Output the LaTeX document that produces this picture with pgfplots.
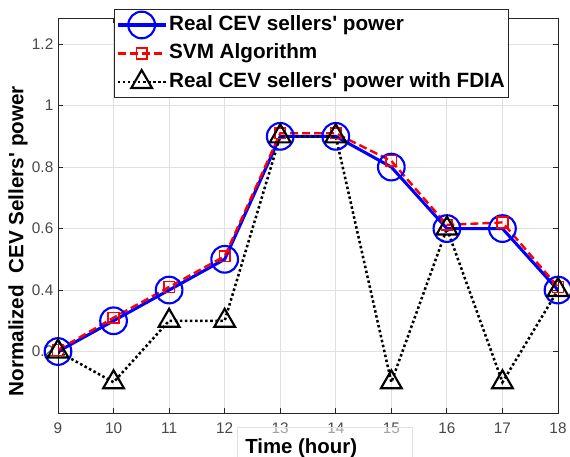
\documentclass[border=0pt]{standalone}
\usepackage{pgfplots}
\pgfplotsset{compat=1.18}
\usepackage{fontspec}
\setmainfont{Liberation Sans}[Ligatures=TeXOff]
\begin{document}
\begin{tikzpicture}
\begin{axis}[
  name=ax,
  scale only axis,
  width=375pt, height=296.25pt,
  xmin=9, xmax=18, ymin=0, ymax=1.285,
  xtick={9,10,11,12,13,14,15,16,17,18},
  ytick={0.2,0.4,0.6,0.8,1,1.2},
  yticklabels={0.2,0.4,0.6,0.8,1,1.2},
  grid=major,
  major grid style={line width=0.6pt, color=black!12},
  axis line style={color=black!85, line width=0.7pt},
  tick style={color=black!85, line width=0.6pt},
  tick align=inside,
  major tick length=4pt,
  /pgf/number format/assume math mode=true,
  ticklabel style={font=\fontsize{11.5}{13}\selectfont, text=black!72},
  xticklabel style={yshift=-4pt},
  xlabel={Time (hour)\hspace*{35pt}},
  ylabel={Normalized\hspace{0.55em}CEV Sellers' power},
  xlabel style={at={([yshift=-30pt]axis description cs:0.358,0)}, anchor=base west,
    font=\bfseries\fontsize{15.3}{18}\selectfont, fill=white, fill opacity=0.5, text opacity=1,
    draw=black!12, draw opacity=1, inner xsep=6pt, inner ysep=8pt, text height=11pt, text depth=4pt},
  ylabel style={at={([xshift=-30pt]axis description cs:0,0.435)}, anchor=center,
    font=\bfseries\fontsize{15.5}{18}\selectfont},
  legend cell align=left,
  legend style={at={([yshift=6.75pt]axis description cs:0.507,1)}, anchor=north,
    draw=black!85, fill=white, line width=0.6pt,
    font=\bfseries\fontsize{15.5}{18}\selectfont,
    inner xsep=1pt, inner ysep=1pt, row sep=0pt,
    nodes={inner ysep=3.5pt, inner xsep=1.5pt, text height=11.2pt, text depth=3.2pt}},
  legend image code/.code={
    \draw[mark repeat=2, mark phase=2, #1] plot coordinates {(0pt,0pt) (18pt,0pt) (36pt,0pt)};
  },
]
\addplot[blue, line width=2.3pt, mark=o, mark size=10pt, mark options={solid, line width=1.6pt}]
  coordinates {(9,0.2) (10,0.3) (11,0.4) (12,0.5) (13,0.9) (14,0.9) (15,0.8) (16,0.6) (17,0.6) (18,0.4)};
\addlegendentry{Real CEV sellers' power}
\addplot[red, line width=1.8pt, dash pattern={on 6pt off 3pt}, mark=square, mark size=4pt, mark options={solid, line width=1.2pt}]
  coordinates {(9,0.205) (10,0.31) (11,0.41) (12,0.51) (13,0.91) (14,0.91) (15,0.82) (16,0.612) (17,0.62) (18,0.41)};
\addlegendentry{SVM Algorithm}
\addplot[black, line width=1.9pt, dash pattern={on 1.9pt off 1.9pt}, mark=triangle, mark size=9pt, mark options={solid, line width=1.6pt}]
  coordinates {(9,0.2) (10,0.1) (11,0.3) (12,0.3) (13,0.9) (14,0.9) (15,0.1) (16,0.6) (17,0.1) (18,0.4)};
\addlegendentry{Real CEV sellers' power with FDIA}
\end{axis}
\pgfresetboundingbox
\path[use as bounding box] ([xshift=-43.5pt,yshift=-32.25pt]ax.south west) rectangle ([xshift=9pt,yshift=13.5pt]ax.north east);
\end{tikzpicture}
\end{document}
